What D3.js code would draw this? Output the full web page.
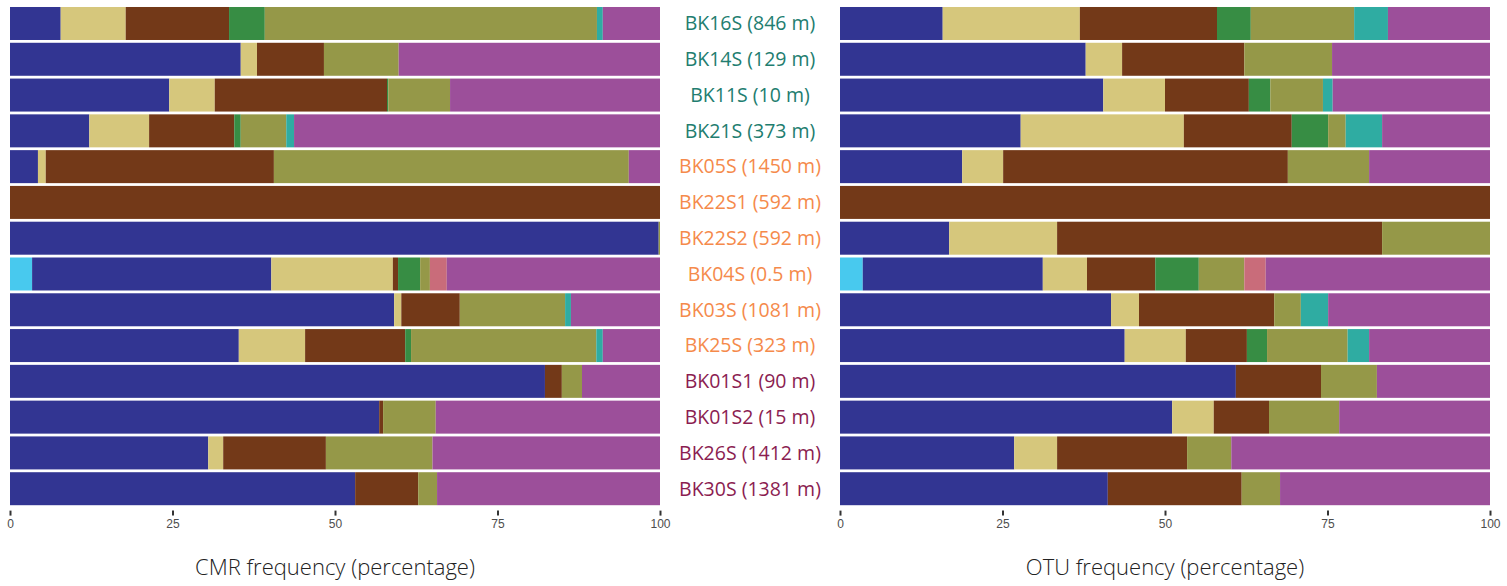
<!DOCTYPE html>
<html>
<head>
<meta charset="utf-8">
<script src="https://cdn.jsdelivr.net/npm/d3@7"></script>
<style>
  body { margin: 0; background: #fff; }
  .tick text { font-family: "Liberation Sans Narrow", "Liberation Sans", sans-serif; }
</style>
</head>
<body>
<div id="chart"></div>
<script>
const width = 1507;
const height = 586;

// Sample names (top to bottom) and which site group they belong to
const samples = ["BK16S (846 m)", "BK14S (129 m)", "BK11S (10 m)", "BK21S (373 m)",
  "BK05S (1450 m)", "BK22S1 (592 m)", "BK22S2 (592 m)", "BK04S (0.5 m)",
  "BK03S (1081 m)", "BK25S (323 m)", "BK01S1 (90 m)", "BK01S2 (15 m)",
  "BK26S (1412 m)", "BK30S (1381 m)"];
const sampleGroup = [0, 0, 0, 0, 1, 1, 1, 1, 1, 1, 2, 2, 2, 2];
const groupColors = ["#227d6f", "#f58a4b", "#8b1d51"];

// Stack order (left to right)
const taxa = ["t1", "t2", "t3", "t4", "t5", "t6", "t7", "t8", "t9"];
const taxaColors = ["#48c9ee", "#323592", "#d6c77c", "#733918", "#378d44",
  "#959848", "#2faca2", "#c96c7a", "#9c4f9a"];

// CMR frequency (%) per sample, one value per taxon
const cmr = [
  [0, 7.8, 10.0, 15.9, 5.5, 51.1, 0.9, 0, 8.8],
  [0, 35.5, 2.5, 10.3, 0, 11.5, 0, 0, 40.2],
  [0, 24.5, 7.0, 26.5, 0.2, 9.5, 0, 0, 32.3],
  [0, 12.2, 9.2, 13.1, 1.0, 7.0, 1.2, 0, 56.3],
  [0, 4.3, 1.2, 35.1, 0, 54.6, 0, 0, 4.8],
  [0, 0, 0, 100, 0, 0, 0, 0, 0],
  [0, 99.8, 0, 0, 0, 0.2, 0, 0, 0],
  [3.4, 36.8, 18.7, 0.8, 3.4, 1.5, 0, 2.6, 32.8],
  [0, 59.1, 1.1, 9.0, 0, 16.2, 0.9, 0, 13.7],
  [0, 35.2, 10.2, 15.4, 0.9, 28.5, 1.0, 0, 8.8],
  [0, 82.3, 0, 2.6, 0, 3.1, 0, 0, 12.0],
  [0, 56.8, 0, 0.6, 0, 8.1, 0, 0, 34.5],
  [0, 30.5, 2.3, 15.8, 0, 16.4, 0, 0, 35.0],
  [0, 53.1, 0, 9.7, 0, 2.9, 0, 0, 34.3]
];

// OTU frequency (%) per sample, one value per taxon
const otu = [
  [0, 15.8, 21.1, 21.1, 5.2, 15.9, 5.2, 0, 15.7],
  [0, 37.8, 5.6, 18.8, 0, 13.5, 0, 0, 24.3],
  [0, 40.5, 9.5, 12.9, 3.3, 8.1, 1.5, 0, 24.2],
  [0, 27.8, 25.1, 16.6, 5.6, 2.7, 5.6, 0, 16.6],
  [0, 18.8, 6.3, 43.8, 0, 12.5, 0, 0, 18.6],
  [0, 0, 0, 100, 0, 0, 0, 0, 0],
  [0, 16.8, 16.6, 50.0, 0, 16.6, 0, 0, 0],
  [3.5, 27.7, 6.8, 10.5, 6.7, 7.0, 0, 3.3, 34.5],
  [0, 41.7, 4.3, 20.8, 0, 4.1, 4.2, 0, 24.9],
  [0, 43.8, 9.4, 9.4, 3.1, 12.4, 3.3, 0, 18.6],
  [0, 60.9, 0, 13.1, 0, 8.6, 0, 0, 17.4],
  [0, 51.1, 6.4, 8.5, 0, 10.8, 0, 0, 23.2],
  [0, 26.8, 6.6, 20.0, 0, 6.8, 0, 0, 39.8],
  [0, 41.2, 0, 20.6, 0, 5.9, 0, 0, 32.3]
];

const xTicks = [0, 25, 50, 75, 100];

const svg = d3.select("#chart").append("svg")
  .attr("width", width)
  .attr("height", height)
  .style("font-family", "'Open Sans', sans-serif");

const y = d3.scaleBand()
  .domain(samples)
  .range([5.6, 506.6])
  .paddingInner(0.078)
  .paddingOuter(0.039);

const color = d3.scaleOrdinal().domain(taxa).range(taxaColors);
const stack = d3.stack().keys(taxa);

function drawPanel(values, x0, x1, title) {
  const x = d3.scaleLinear().domain([0, 100]).range([x0, x1]);
  const rows = values.map((v, i) => {
    const r = { sample: samples[i] };
    taxa.forEach((t, j) => r[t] = v[j]);
    return r;
  });
  const series = stack(rows);

  const g = svg.append("g");
  g.selectAll("g.layer")
    .data(series)
    .join("g")
    .attr("class", "layer")
    .attr("fill", d => color(d.key))
    .selectAll("rect")
    .data(d => d.filter(p => p[1] - p[0] > 0))
    .join("rect")
    .attr("x", d => x(d[0]))
    .attr("width", d => x(d[1]) - x(d[0]))
    .attr("y", d => y(d.data.sample))
    .attr("height", y.bandwidth());

  const axis = svg.append("g")
    .attr("transform", `translate(0,${y.range()[1] + 4})`)
    .call(d3.axisBottom(x).tickValues(xTicks).tickSize(5).tickPadding(4));
  axis.select(".domain").remove();
  axis.selectAll(".tick line").attr("stroke", "#333").attr("stroke-width", 2);
  axis.selectAll(".tick text").attr("fill", "#4d4d4d").style("font-size", "12px");

  svg.append("text")
    .attr("x", (x0 + x1) / 2)
    .attr("y", 575)
    .attr("text-anchor", "middle")
    .attr("fill", "#222")
    .style("font-size", "22px")
    .style("font-weight", 300)
    .text(title);
}

drawPanel(cmr, 10, 660, "CMR frequency (percentage)");
drawPanel(otu, 840, 1490, "OTU frequency (percentage)");

// Sample labels between the panels
svg.append("g")
  .selectAll("text")
  .data(samples)
  .join("text")
  .attr("x", 750)
  .attr("y", d => y(d) + y.bandwidth() / 2)
  .attr("dy", "0.35em")
  .attr("text-anchor", "middle")
  .attr("fill", (d, i) => groupColors[sampleGroup[i]])
  .style("font-size", "19.5px")
  .text(d => d);
</script>
</body>
</html>
